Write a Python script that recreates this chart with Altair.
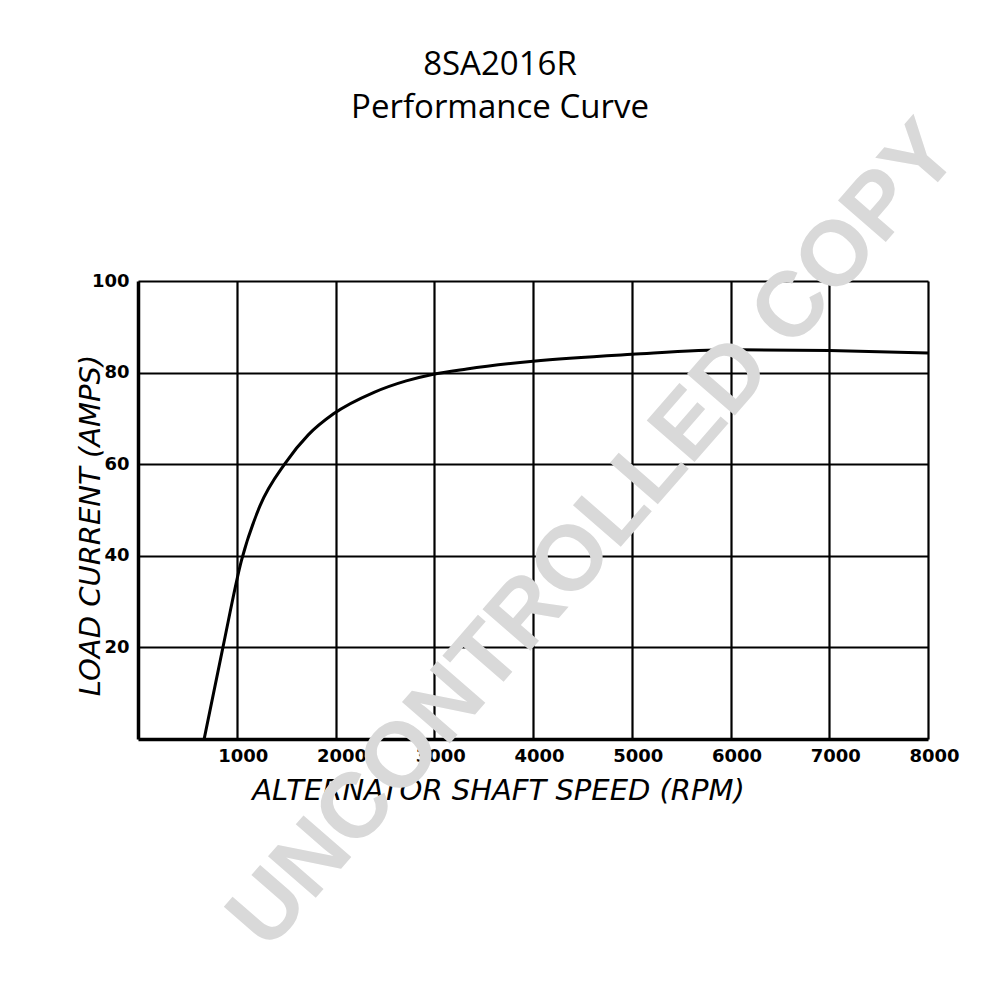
import altair as alt
import pandas as pd

# data
rpm = [670, 860, 1048, 1235, 1490, 1724, 1980, 2390, 2716, 2980, 3330, 4000, 5000, 6000, 7000, 8000]
amps = [0, 20, 39, 50.9, 60.2, 66.4, 71, 75.7, 78.2, 79.6, 80.8, 82.5, 84, 85, 84.8, 84.3]
x_ticks = [1000, 2000, 3000, 4000, 5000, 6000, 7000, 8000]
y_ticks = [20, 40, 60, 80, 100]
title_lines = ["8SA2016R", "Performance Curve"]
x_title = "ALTERNATOR SHAFT SPEED (RPM)"
y_title = "LOAD CURRENT (AMPS)"
watermark = ["UNCONTROLLED COPY"]

df = pd.DataFrame({"rpm": rpm, "amps": amps})
wm = pd.DataFrame({"t": watermark})

hand = "DejaVu Sans"

curve = alt.Chart(df).mark_line(
    color="black", strokeWidth=3, interpolate="monotone"
).encode(
    x=alt.X(
        "rpm:Q",
        scale=alt.Scale(domain=[0, 8000], nice=False, zero=False),
        axis=alt.Axis(
            values=x_ticks, format="d", grid=True, gridColor="black", gridWidth=2.2,
            gridOpacity=1, ticks=False, domain=True, domainColor="black", domainWidth=3.5,
            labelFont=hand, labelFontSize=18, labelFontWeight="bold", labelColor="black",
            labelPadding=8, labelOffset=6, labelFlush=False, labelBound=False,
            labelOverlap=False,
            title=x_title, titleFont=hand, titleFontSize=29, titleFontStyle="italic",
            titleFontWeight="normal", titleColor="black",
            titleX=360, titleY=51, titleAlign="center", titleBaseline="middle",
        ),
    ),
    y=alt.Y(
        "amps:Q",
        scale=alt.Scale(domain=[0, 100], nice=False),
        axis=alt.Axis(
            values=y_ticks, format="d", grid=True, gridColor="black", gridWidth=2.2,
            gridOpacity=1, ticks=False, domain=True, domainColor="black", domainWidth=3.5,
            labelFont=hand, labelFontSize=18, labelFontWeight="bold", labelColor="black",
            labelPadding=9, labelFlush=False, labelBound=False, labelOverlap=False,
            title=y_title, titleFont=hand, titleFontSize=29, titleFontStyle="italic",
            titleFontWeight="normal", titleColor="black",
            titleX=-48, titleY=244, titleAngle=270, titleAlign="center",
            titleBaseline="middle",
        ),
    ),
)

title1 = alt.Chart(pd.DataFrame({"t": [title_lines[0]]})).mark_text(
    font="Open Sans", fontSize=33, color="black", align="center", baseline="alphabetic"
).encode(text="t:N", x=alt.value(362), y=alt.value(-206))

title2 = alt.Chart(pd.DataFrame({"t": [title_lines[1]]})).mark_text(
    font="Open Sans", fontSize=33, color="black", align="center", baseline="alphabetic"
).encode(text="t:N", x=alt.value(362), y=alt.value(-163))

mark = alt.Chart(wm).mark_text(
    font="Liberation Sans", fontWeight="bold", fontSize=92, color="#d9d9d9",
    angle=311, align="center", baseline="middle",
).encode(
    text="t:N",
    x=alt.value(456),
    y=alt.value(254),
)

chart = alt.layer(curve, mark, title1, title2).properties(
    width=790,
    height=458,
    autosize=alt.AutoSizeParams(type="none"),
    padding={"left": 130, "top": 273, "right": 64, "bottom": 253},
).configure_view(
    stroke="black", strokeWidth=2.5
).configure(background="white")

chart.save("out.html", embed_options={"renderer": "svg", "actions": False})
